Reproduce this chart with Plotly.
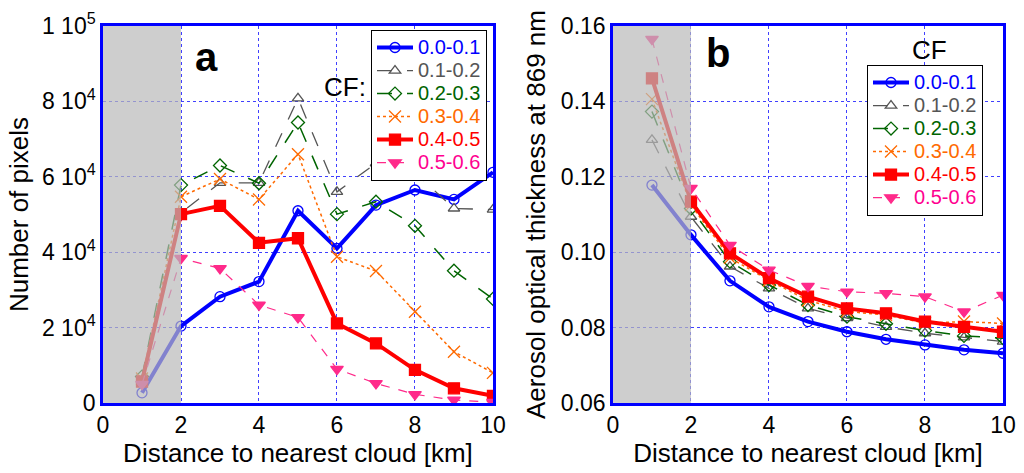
import plotly.graph_objects as go

distance_km = [1, 2, 3, 4, 5, 6, 7, 8, 9, 10]
cf_labels = ["0.0-0.1", "0.1-0.2", "0.2-0.3", "0.3-0.4", "0.4-0.5", "0.5-0.6"]

# Panel a: number of pixels
pixels_00_01 = [2700, 20400, 28200, 32200, 51000, 41000, 52500, 56500, 54000, 61200]
pixels_01_02 = [6000, 50500, 58400, 58400, 80800, 56000, 63600, 61100, 51600, 51300]
pixels_02_03 = [7000, 57800, 63000, 58300, 74400, 50100, 53400, 47000, 35100, 27600]
pixels_03_04 = [6500, 54700, 59400, 54000, 66000, 38800, 35000, 24200, 13600, 8000]
pixels_04_05 = [5700, 50100, 52300, 42500, 43700, 21100, 15800, 8800, 3900, 1900]
pixels_05_06 = [5000, 38400, 35700, 26000, 22700, 9000, 5200, 2300, 800, 200]

# Panel b: aerosol optical thickness at 869 nm
aot_00_01 = [0.1178, 0.1046, 0.0924, 0.0855, 0.0816, 0.0789, 0.0769, 0.0754, 0.0741, 0.0732]
aot_01_02 = [0.1298, 0.1094, 0.0962, 0.0904, 0.0851, 0.0825, 0.0802, 0.0785, 0.0774, 0.0763]
aot_02_03 = [0.1373, 0.1116, 0.0975, 0.0913, 0.0860, 0.0829, 0.0810, 0.0792, 0.0778, 0.0772]
aot_03_04 = [0.1406, 0.1125, 0.0985, 0.0925, 0.0872, 0.0843, 0.0833, 0.0812, 0.0816, 0.0811]
aot_04_05 = [0.1461, 0.1134, 0.0997, 0.0931, 0.0882, 0.0851, 0.0838, 0.0816, 0.0802, 0.0789]
aot_05_06 = [0.1565, 0.1170, 0.1019, 0.0953, 0.0910, 0.0895, 0.0891, 0.0882, 0.0842, 0.0886]

y_ticks_a = [0, 20000, 40000, 60000, 80000, 100000]
y_ticklabels_a = ["0", "2 10<sup>4</sup>", "4 10<sup>4</sup>", "6 10<sup>4</sup>",
                  "8 10<sup>4</sup>", "1 10<sup>5</sup>"]
y_ticks_b = [0.06, 0.08, 0.10, 0.12, 0.14, 0.16]
x_ticks = [0, 2, 4, 6, 8, 10]

series_a = [pixels_00_01, pixels_01_02, pixels_02_03, pixels_03_04, pixels_04_05, pixels_05_06]
series_b = [aot_00_01, aot_01_02, aot_02_03, aot_03_04, aot_04_05, aot_05_06]

styles = [
    dict(color="#0000ff", text="#0000ff", width=4, dash="solid", symbol="circle-open", size=10),
    dict(color="#555555", text="#555555", width=1.3, dash="longdash", symbol="triangle-up-open", size=10),
    dict(color="#006400", text="#006400", width=1.5, dash="longdash", symbol="diamond-open", size=10),
    dict(color="#ff6a00", text="#ff6a00", width=1.5, dash="dot", symbol="x-thin-open", size=12),
    dict(color="#ff0000", text="#ff0000", width=4, dash="solid", symbol="square", size=11),
    dict(color="#ff2a8a", text="#ff0090", width=1.2, dash="dash", symbol="triangle-down", size=11),
]

FONT = "Liberation Sans, Arial, sans-serif"
fig = go.Figure()

for i, (lab, st) in enumerate(zip(cf_labels, styles)):
    name = f"<span style='color:{st['text']};font-size:20px'>{lab}</span>"
    for ser, xa, ya, leg in ((series_a[i], "x", "y", "legend"), (series_b[i], "x2", "y2", "legend2")):
        fig.add_trace(go.Scatter(
            x=distance_km, y=ser, xaxis=xa, yaxis=ya, name=name, legend=leg,
            mode="lines+markers",
            line=dict(color=st["color"], width=st["width"], dash=st["dash"]),
            marker=dict(symbol=st["symbol"], size=st["size"], color=st["color"],
                        line=dict(color=st["color"], width=1.3)),
        ))

axis_common = dict(
    showline=True, mirror=True, linecolor="#0000ff", linewidth=2.5,
    showgrid=True, gridcolor="#4040ff", griddash="dot", gridwidth=1,
    zeroline=False, ticks="", tickfont=dict(family=FONT, size=23, color="black"),
    automargin=False,
)

fig.update_layout(
    width=1024, height=473,
    margin=dict(l=0, r=0, t=0, b=0),
    paper_bgcolor="white", plot_bgcolor="white",
    font=dict(family=FONT, color="black"),
    xaxis=dict(domain=[0.1006, 0.4814], range=[0, 10], tickvals=x_ticks, anchor="y",
               title=dict(text="Distance to nearest cloud [km]", font=dict(size=26), standoff=0),
               **axis_common),
    yaxis=dict(domain=[0.148, 0.945], range=[0, 100000], tickvals=y_ticks_a,
               ticktext=y_ticklabels_a, anchor="x",
               title=dict(text="Number of pixels", font=dict(size=26), standoff=6),
               **axis_common),
    xaxis2=dict(domain=[0.5986, 0.9795], range=[0, 10], tickvals=x_ticks, anchor="y2",
                title=dict(text="Distance to nearest cloud [km]", font=dict(size=26), standoff=0),
                **axis_common),
    yaxis2=dict(domain=[0.148, 0.945], range=[0.06, 0.16], tickvals=y_ticks_b,
                tickformat=".2f", anchor="x2",
                title=dict(text="Aerosol optical thickness at 869 nm", font=dict(size=26), standoff=8),
                **axis_common),
    legend=dict(x=371 / 1024, y=1 - 30 / 473, xanchor="left", yanchor="top",
                bgcolor="white", bordercolor="black", borderwidth=1,
                font=dict(family=FONT, size=15.4), tracegroupgap=0, itemwidth=36),
    legend2=dict(x=867 / 1024, y=1 - 65 / 473, xanchor="left", yanchor="top",
                 bgcolor="white", bordercolor="black", borderwidth=1,
                 font=dict(family=FONT, size=15.4), tracegroupgap=0, itemwidth=36),
    showlegend=True,
)

# grey shaded near-cloud zone drawn over the data
for xr, yr in (("x", "y"), ("x2", "y2")):
    fig.add_shape(type="rect", xref=xr, yref=f"{yr} domain", x0=0, x1=2, y0=0, y1=1,
                  fillcolor="rgb(185,185,185)", opacity=0.7, line_width=0, layer="above")

ann = dict(xref="paper", yref="paper", xanchor="center", yanchor="middle", showarrow=False)
fig.add_annotation(text="<b>a</b>", x=206 / 1024, y=1 - 57 / 473,
                   font=dict(size=40, family=FONT), **ann)
fig.add_annotation(text="<b>b</b>", x=718 / 1024, y=1 - 53 / 473,
                   font=dict(size=40, family=FONT), **ann)
fig.add_annotation(text="CF:", x=345 / 1024, y=1 - 87 / 473,
                   font=dict(size=26, family=FONT), **ann)
fig.add_annotation(text="CF", x=929 / 1024, y=1 - 50 / 473,
                   font=dict(size=26, family=FONT), **ann)

fig.write_html("out.html", post_script="document.body.style.margin='0';",
               config={"displayModeBar": False})
